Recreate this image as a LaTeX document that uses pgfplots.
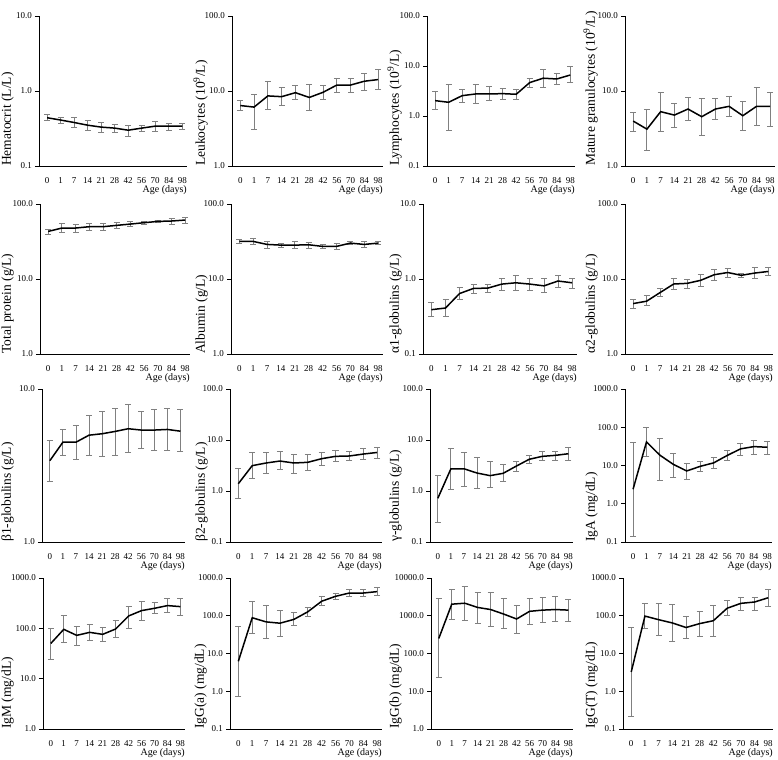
\documentclass[border=0pt]{standalone}
\usepackage{fontspec}
\setmainfont{Liberation Serif}
\usepackage{pgfplots}
\usepackage{pgfplotstable}
\pgfplotsset{compat=1.18}

\pgfplotstableread{
x y hi lo
0 0.44 0.48 0.405
1 0.41 0.45 0.37
2 0.38 0.44 0.33
3 0.35 0.40 0.30
4 0.33 0.38 0.28
5 0.32 0.36 0.28
6 0.30 0.35 0.25
7 0.32 0.35 0.29
8 0.34 0.39 0.29
9 0.34 0.37 0.30
10 0.34 0.37 0.31
}\tHct
\pgfplotstableread{
x y hi lo
0 6.4 7.5 5.5
1 6.1 9.0 3.1
2 8.6 13.5 5.6
3 8.4 11.0 6.4
4 9.5 11.7 7.6
5 8.2 12.1 5.5
6 9.6 11.8 7.6
7 12.0 14.9 9.6
8 12.0 14.5 9.6
9 13.5 17.2 10.3
10 14.2 19.3 10.4
}\tLeuk
\pgfplotstableread{
x y hi lo
0 2.03 3.07 1.38
1 1.88 4.3 0.51
2 2.55 3.47 1.85
3 2.76 4.3 1.82
4 2.76 3.87 2.0
5 2.8 3.6 2.19
6 2.72 3.42 2.16
7 4.66 5.6 3.8
8 5.7 8.4 3.64
9 5.5 7.0 4.2
10 6.6 9.7 4.66
}\tLymph
\pgfplotstableread{
x y hi lo
0 3.97 5.24 2.89
1 3.1 5.75 1.6
2 5.3 9.5 2.9
3 4.77 6.8 3.3
4 5.75 8.1 4.06
5 4.54 7.9 2.55
6 5.75 7.98 4.14
7 6.24 8.5 4.6
8 4.68 7.3 2.98
9 6.24 11.3 3.44
10 6.24 9.7 3.4
}\tGran
\pgfplotstableread{
x y hi lo
0 43.1 46.3 39.7
1 47.8 55.7 41.8
2 47.8 54 42
3 49.8 55 45
4 49.8 55.7 44.5
5 51.9 57 47.7
6 54 58 50.3
7 56.3 59.3 52.9
8 58.6 61.1 56.3
9 59.3 65 53.5
10 61.1 66.3 55.7
}\tTP
\pgfplotstableread{
x y hi lo
0 31.7 33.4 29.5
1 31.7 34.4 28.9
2 28.9 31.7 25.8
3 28.3 30.1 26.6
4 28.3 31.3 25.3
5 28.6 31 25.8
6 27.2 28.9 25.3
7 27.2 30 25
8 30.1 31.7 28.6
9 28.9 32 26
10 30.1 31.7 28.6
}\tAlb
\pgfplotstableread{
x y hi lo
0 0.39 0.48 0.317
1 0.41 0.53 0.317
2 0.64 0.76 0.53
3 0.75 0.84 0.65
4 0.755 0.855 0.66
5 0.855 1.01 0.71
6 0.89 1.1 0.71
7 0.855 1.03 0.70
8 0.81 1.01 0.66
9 0.94 1.13 0.78
10 0.89 1.03 0.755
}\tAa
\pgfplotstableread{
x y hi lo
0 4.7 5.27 4.1
1 5.06 5.97 4.38
2 6.6 7.49 5.85
3 8.57 10.2 7.26
4 8.75 10 7.49
5 9.6 11.4 8.05
6 11.4 13.5 9.6
7 12.2 13.9 10.4
8 11.2 12 10.4
9 12.0 14.3 10.2
10 12.6 14.1 11.1
}\tAb
\pgfplotstableread{
x y hi lo
0 3.4 4.58 2.5
1 4.49 5.4 3.7
2 4.49 5.77 3.47
3 4.99 6.68 3.7
4 5.1 7.14 3.63
5 5.28 7.5 3.7
6 5.5 7.9 3.84
7 5.39 7.14 4.06
8 5.39 7.4 3.96
9 5.44 7.5 3.96
10 5.3 7.3 3.9
}\tBa
\pgfplotstableread{
x y hi lo
0 1.39 2.78 0.71
1 3.14 5.7 1.8
2 3.54 5.7 2.25
3 3.87 5.9 2.66
4 3.54 5.3 2.25
5 3.65 5.3 2.5
6 4.3 5.7 3.23
7 4.78 6.3 3.76
8 4.86 5.98 3.93
9 5.3 6.9 4.1
10 5.7 7.3 4.4
}\tBb
\pgfplotstableread{
x y hi lo
0 0.72 2.03 0.24
1 2.73 6.8 1.08
2 2.73 5.8 1.25
3 2.25 4.57 1.13
4 2.0 3.8 1.16
5 2.22 3.26 1.51
6 3.07 3.8 2.46
7 4.19 5.0 3.5
8 4.78 5.96 3.94
9 5.0 5.96 4.06
10 5.38 7.1 4.06
}\tG
\pgfplotstableread{
x y hi lo
0 2.4 41 0.14
1 41.3 100 17.5
2 18.6 50 4.1
3 10.7 21 5.0
4 7.2 11 4.4
5 9.5 13 6.85
6 11.7 15.8 8.5
7 18.2 24.6 13.5
8 27.2 38 18.2
9 31.2 44.7 20
10 30 41.3 20
}\tIgA
\pgfplotstableread{
x y hi lo
0 50 100 24
1 95.5 178 51.9
2 72.5 111 45.9
3 83.2 120 56.8
4 75.9 103 54
5 97 142 65
6 176 278 98.5
7 225 339 146
8 250 334 196
9 283 384 205
10 270 396 184
}\tIgM
\pgfplotstableread{
x y hi lo
0 6.2 52 0.75
1 88.6 233 34.8
2 68.8 186 24.3
3 63.5 142 27.8
4 80 120 56
5 127 162 98
6 242 316 186
7 327 400 268
8 400 490 327
9 400 500 334
10 436 575 341
}\tIgGa
\pgfplotstableread{
x y hi lo
0 250 2850 22.8
1 2027 4900 820
2 2150 6000 770
3 1660 4200 630
4 1460 4100 520
5 1110 2850 450
6 820 1890 350
7 1310 2910 580
8 1410 3050 660
9 1460 3270 690
10 1410 2750 690
}\tIgGb
\pgfplotstableread{
x y hi lo
0 3.24 48 0.22
1 98 213 45
2 78.7 213 29.4
3 64.5 200 21
4 48.8 96 24.5
5 62 130 29
6 74 190 29
7 158 250 104
8 213 310 140
9 231 300 141
10 300 490 177
}\tIgGT

\pgfplotsset{
  mypanel/.style={
    scale only axis,
    anchor=south west,
    yminorticks=false,
    xmin=-0.6, xmax=10.35,
    axis lines=left, axis line style={-, line width=0.8bp, black},
    tick align=outside,
    xtick={0,...,10},
    xticklabels={0,1,7,14,21,28,42,56,70,84,98},
    xtick style={draw=none},
    ytick style={line width=0.8bp, black},
    major tick length=4bp,
    tick label style={font=\fontsize{9bp}{11bp}\selectfont},
    /pgf/number format/assume math mode=true,
    xticklabel style={anchor=north, inner sep=0pt, yshift=-7bp},
    yticklabel style={anchor=east, inner sep=0pt, xshift=-3bp},
    xlabel={Age (days)},
    xlabel style={at={(axis description cs:1,0)}, anchor=north east, inner sep=0pt, yshift=-19bp, font=\fontsize{10bp}{12bp}\selectfont},
    ylabel style={anchor=south west, inner sep=0pt, font=\fontsize{13.5bp}{15bp}\selectfont},
    clip=false,
  },
  ylo/.style={ylabel style={at={([xshift=-#1bp]axis description cs:0,0)}}},
  ebar/.style={draw=none, mark=none,
    error bars/.cd, y dir=both, y explicit,
    error bar style={draw=gray, line width=0.9bp},
    error mark options={draw=gray, line width=0.9bp, mark size=3bp, rotate=90}},
}

% #1 left, #2 bottom, #3 width, #4 height, #5 label offset, #6 further options, #7 table
\newcommand\panel[7]{%
\begin{axis}[ymode=log, log basis y=10, mypanel, at={(#1bp,#2bp)}, width=#3bp, height=#4bp, ylo=#5, #6]
\addplot[ebar] table[x=x, y=y, y error plus expr=\thisrow{hi}-\thisrow{y}, y error minus expr=\thisrow{y}-\thisrow{lo}] {#7};
\addplot[black, line width=1.5bp, mark=none] table[x=x, y=y] {#7};
\end{axis}}

\begin{document}
\begin{tikzpicture}
\path[use as bounding box] (0,0) rectangle (778bp,760bp);
% row 1
\panel{39}{594}{148}{150}{25}{ymin=0.1, ymax=10, ytick={0.1,1,10}, yticklabels={0.1,1.0,10.0}, ylabel={Hematocrit (L/L)}}{\tHct}
\panel{232}{594}{151}{150}{24}{ymin=1, ymax=100, ytick={1,10,100}, yticklabels={1.0,10.0,100.0}, ylabel={Leukocytes (10\textsuperscript{9}/L)}}{\tLeuk}
\panel{427}{594}{148}{150}{25}{ymin=0.1, ymax=100, ytick={0.1,1,10,100}, yticklabels={0.1,1.0,10.0,100.0}, ylabel={Lymphocytes (10\textsuperscript{9}/L)}}{\tLymph}
\panel{625}{594}{150}{150}{27}{ymin=1, ymax=100, ytick={1,10,100}, yticklabels={1.0,10.0,100.0}, ylabel={Mature granulocytes (10\textsuperscript{9}/L)}}{\tGran}
% row 2
\panel{40}{406}{150}{150}{26}{ymin=1, ymax=100, ytick={1,10,100}, yticklabels={1.0,10.0,100.0}, ylabel={Total protein (g/L)}}{\tTP}
\panel{231}{406}{152}{150}{23}{ymin=1, ymax=100, ytick={1,10,100}, yticklabels={1.0,10.0,100.0}, ylabel={Albumin (g/L)}}{\tAlb}
\panel{423}{406}{154}{150}{21}{ymin=0.1, ymax=10, ytick={0.1,1,10}, yticklabels={0.1,1.0,10.0}, ylabel={α1-globulins (g/L)}}{\tAa}
\panel{625}{406}{148}{150}{27}{ymin=1, ymax=100, ytick={1,10,100}, yticklabels={1.0,10.0,100.0}, ylabel={α2-globulins (g/L)}}{\tAb}
% row 3
\panel{42}{218}{143}{153}{28}{ymin=1, ymax=10, ytick={1,10}, yticklabels={1.0,10.0}, ylabel={β1-globulins (g/L)}}{\tBa}
\panel{230}{218}{152}{153}{22}{ymin=0.1, ymax=100, ytick={0.1,1,10,100}, yticklabels={0.1,1.0,10.0,100.0}, ylabel={β2-globulins (g/L)}}{\tBb}
\panel{430}{218}{143}{153}{28}{ymin=0.1, ymax=100, ytick={0.1,1,10,100}, yticklabels={0.1,1.0,10.0,100.0}, ylabel={γ-globulins (g/L)}}{\tG}
\panel{625}{218}{147}{153}{27}{ymin=0.1, ymax=1000, ytick={0.1,1,10,100,1000}, yticklabels={0.1,1.0,10.0,100.0,1000.0}, ylabel={IgA (mg/dL)}}{\tIgA}
% row 4
\panel{43}{31}{142}{151}{29}{ymin=1, ymax=1000, ytick={1,10,100,1000}, yticklabels={1.0,10.0,100.0,1000.0}, ylabel={IgM (mg/dL)}}{\tIgM}
\panel{230}{31}{152}{151}{23}{ymin=0.1, ymax=1000, ytick={0.1,1,10,100,1000}, yticklabels={0.1,1.0,10.0,100.0,1000.0}, ylabel={IgG(a) (mg/dL)}}{\tIgGa}
\panel{431}{31}{142}{151}{29}{ymin=1, ymax=10000, ytick={1,10,100,1000,10000}, yticklabels={1.0,10.0,100.0,1000.0,10000.0}, ylabel={IgG(b) (mg/dL)}}{\tIgGb}
\panel{623}{31}{150}{151}{25}{ymin=0.1, ymax=1000, ytick={0.1,1,10,100,1000}, yticklabels={0.1,1.0,10.0,100.0,1000.0}, ylabel={IgG(T) (mg/dL)}}{\tIgGT}
\end{tikzpicture}
\end{document}
